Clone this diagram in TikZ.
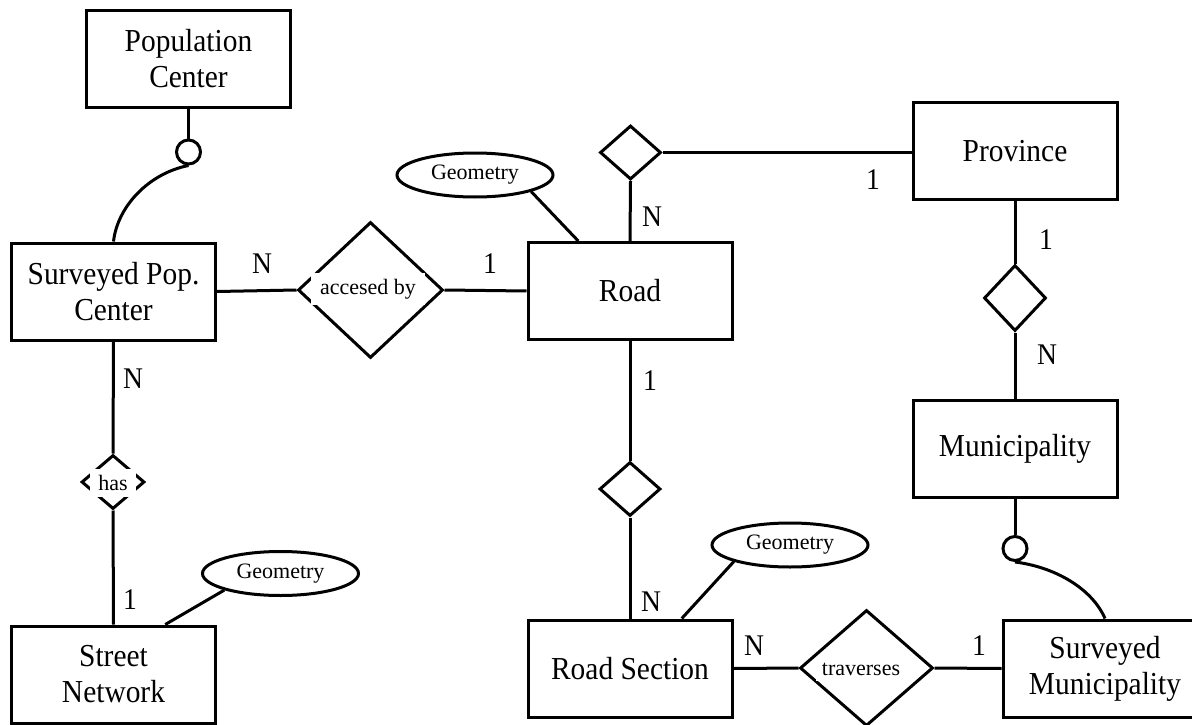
\documentclass[tikz,border=0pt]{standalone}
\usepackage{fontspec}
\setmainfont{Liberation Serif}
\newfontfamily\boxfont{Liberation Serif}[FakeStretch=0.92]
\usetikzlibrary{shapes.geometric,calc}

\tikzset{
  entity/.style={draw, rectangle, line width=3pt, minimum width=204pt, minimum height=97pt,
    inner sep=0pt, align=center, font=\boxfont\fontsize{32}{36}\selectfont},
  relation/.style={draw, diamond, line width=3pt, inner sep=0pt, shape aspect=1},
  reltext/.style={fill=white, inner xsep=4pt, inner ysep=6pt, font=\fontsize{22}{24}\selectfont},
  attrib/.style={draw, ellipse, line width=3pt, minimum width=156pt, minimum height=44pt,
    inner sep=0pt, font=\fontsize{22}{24}\selectfont},
  optional/.style={draw, circle, line width=3pt, minimum size=24pt, inner sep=0pt},
  card/.style={font=\boxfont\fontsize{30}{32}\selectfont, inner sep=0pt},
  link/.style={line width=3pt}
}

\begin{document}
\begin{tikzpicture}[x=1pt,y=-1pt]
\useasboundingbox (0,0) rectangle (1192,725);
\clip (0,0) rectangle (1192,725);

% entities
\node[entity] (pc)   at (188.5,59)    {Population\\Center};
\node[entity] (spc)  at (113.5,291.5) {Surveyed Pop.\\Center};
\node[entity] (road) at (630,291)     {Road};
\node[entity] (prov) at (1015,151)    {Province};
\node[entity] (muni) at (1015,449)    {Municipality};
\node[entity] (rs)   at (630,668.5)   {Road Section};
\node[entity] (sm)   at (1105,668.5)  {Surveyed\\Municipality};
\node[entity] (sn)   at (113.5,674.5) {Street\\Network};

% relationships
\node[relation, minimum width=145pt, minimum height=136pt] (acc)  at (370.5,290) {};
\node[relation, minimum width=61pt,  minimum height=54pt]  (rp)   at (630.5,152.5) {};
\node[relation, minimum width=62pt,  minimum height=66pt]  (pm)   at (1015,298) {};
\node[relation, minimum width=61pt,  minimum height=54pt]  (rrs)  at (630,489) {};
\node[relation, minimum width=63pt,  minimum height=54pt]  (has)  at (113,482) {};
\node[relation, minimum width=133pt, minimum height=116pt] (trav) at (866.5,668) {};

\node[reltext, inner xsep=9pt] (acct) at (368,289) {accesed by};
\node[reltext, inner xsep=8pt] (hast) at (113,483) {has};
\node[reltext, inner xsep=6pt] (travt) at (861,669) {traverses};

% attributes
\node[attrib] (geo1) at (475,175)   {Geometry};
\node[attrib] (geo2) at (790,545)   {Geometry};
\node[attrib] (geo3) at (280.5,573.5) {Geometry};

% optional-participation circles
\node[optional] (c1) at (188.5,152) {};
\node[optional] (c2) at (1015,548.5) {};

% connectors
\draw[link] (pc.south) -- (c1.north);
\draw[link] (c1.south) .. controls +(-40,8) and +(4,-35) .. (spc.north);
\draw[link] (spc.east) -- (acc.west);
\draw[link] (acc.east) -- (road.west);
\draw[link] (geo1.south east) -- ($(road.north west)!0.25!(road.north east)$);
\draw[link] (road.north) -- (rp.south);
\draw[link] (rp.east) -- (prov.west |- rp.east);
\draw[link] (prov.south) -- (pm.north);
\draw[link] (pm.south) -- (muni.north);
\draw[link] (muni.south) -- (c2.north);
\draw[link] (c2.south) .. controls +(40,5) and +(-13,-30) .. (sm.north);
\draw[link] (road.south) -- (rrs.north);
\draw[link] (rrs.south) -- (rs.north);
\draw[link] (geo2.south west) -- ($(rs.north west)!0.75!(rs.north east)$);
\draw[link] (rs.east) -- (trav.west);
\draw[link] (trav.east) -- (sm.west);
\draw[link] (spc.south) -- (has.north);
\draw[link] (has.south) -- (sn.north);
\draw[link] (geo3.south west) -- ($(sn.north west)!0.75!(sn.north east)$);

% cardinalities
\node[card] (k1)  at (262,264) {N};
\node[card] (k2)  at (490,264) {1};
\node[card] (k3)  at (652,217) {N};
\node[card] (k4)  at (873,180) {1};
\node[card] (k5)  at (1046,240) {1};
\node[card] (k6)  at (1047,355) {N};
\node[card] (k7)  at (133,379) {N};
\node[card] (k8)  at (650,381) {1};
\node[card] (k9)  at (651,602) {N};
\node[card] (k10) at (130,600) {1};
\node[card] (k11) at (754,646) {N};
\node[card] (k12) at (979,646) {1};
\end{tikzpicture}
\end{document}
